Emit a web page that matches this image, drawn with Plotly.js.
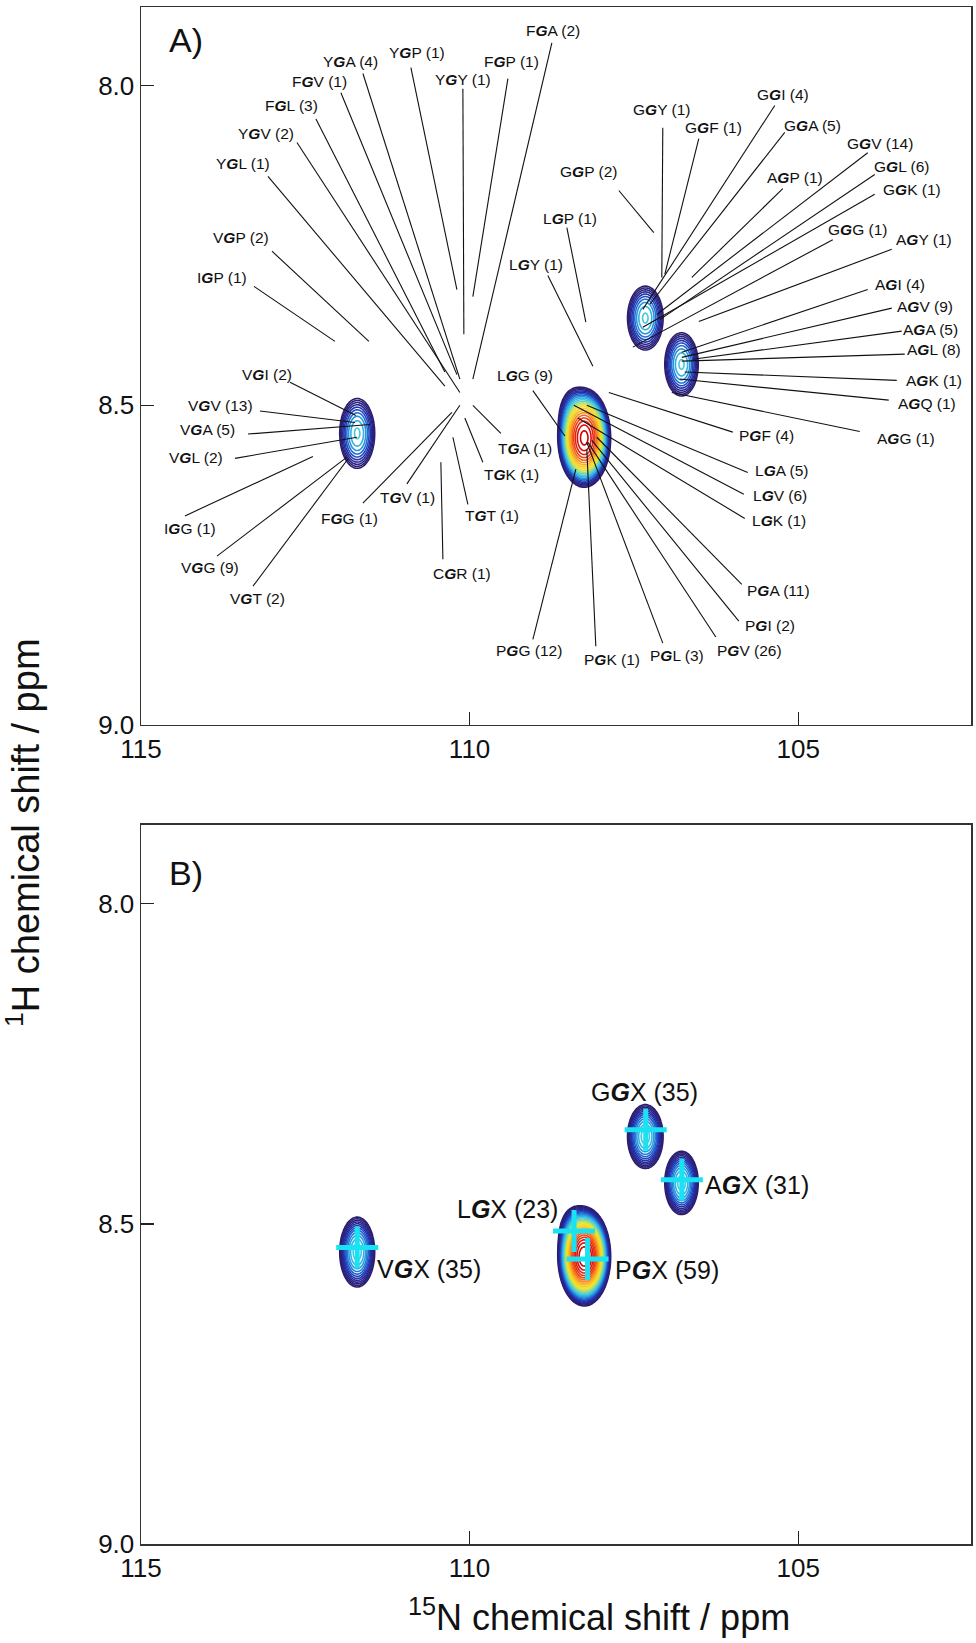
<!DOCTYPE html>
<html>
<head>
<meta charset="utf-8">
<script src="https://cdn.plot.ly/plotly-3.0.1.min.js"></script>
<style>html,body{margin:0;padding:0;background:#fff;}#chart{width:976px;height:1643px;}</style>
</head>
<body>
<div id="chart"></div>
<script>
// ---------- peak data (15N ppm, 1H ppm, widths, intensity) ----------
const peakNames = ['VG', 'PG', 'LG', 'GG', 'AG'];
const peakN     = [111.71, 108.255, 108.40, 107.326, 106.775];
const peakH     = [8.544, 8.551, 8.515, 8.3636, 8.436];
const peakSigN  = [0.115, 0.114, 0.10, 0.117, 0.110];
const peakSigH  = [0.0236, 0.0219, 0.018, 0.0216, 0.0214];
const peakAmp   = [14.5, 500, 10, 14.5, 14.5];

// ---------- panel A labels ----------
const labA = ['YGA (4)','YGP (1)','FGV (1)','FGL (3)','YGV (2)','YGL (1)','VGP (2)','IGP (1)','YGY (1)','FGP (1)','FGA (2)',
  'VGI (2)','VGV (13)','VGA (5)','VGL (2)','IGG (1)','VGG (9)','VGT (2)','FGG (1)','TGV (1)','CGR (1)','TGT (1)','TGK (1)','TGA (1)','LGG (9)',
  'GGP (2)','GGY (1)','GGF (1)','GGI (4)','GGA (5)','GGV (14)','AGP (1)','GGL (6)','GGK (1)','GGG (1)','AGY (1)','LGP (1)','LGY (1)',
  'AGI (4)','AGV (9)','AGA (5)','AGL (8)','AGK (1)','AGQ (1)','AGG (1)','PGF (4)','LGA (5)','LGV (6)','LGK (1)',
  'PGA (11)','PGI (2)','PGV (26)','PGL (3)','PGK (1)','PGG (12)'];
const labAX = [111.806,110.802,112.277,112.703,113.099,113.448,113.479,113.768,110.102,109.356,108.733,
  113.083,113.783,113.981,114.163,114.255,113.95,113.22,111.821,110.939,110.117,109.661,109.356,109.159,109.159,
  108.185,107.075,106.284,105.234,104.778,103.759,105.052,103.424,103.272,104.093,103.089,108.474,108.991,
  103.454,103.074,102.983,102.937,102.937,103.044,103.363,105.478,105.249,105.28,105.295,
  105.295,105.432,105.736,106.847,107.835,109.098];
const labAY = [7.9625,7.948,7.994,8.031,8.075,8.122,8.2375,8.3,7.991,7.9625,7.914,
  8.4516,8.5,8.5375,8.581,8.692,8.753,8.803,8.677,8.644,8.7625,8.673,8.609,8.567,8.453,
  8.134,8.0375,8.066,8.014,8.0625,8.091,8.144,8.127,8.1625,8.225,8.241,8.208,8.28,
  8.311,8.345,8.381,8.4125,8.461,8.497,8.552,8.548,8.602,8.641,8.68,
  8.789,8.844,8.883,8.892,8.897,8.884];
// leader lines: label end -> peak end
const leadX0 = [111.623,110.893,111.958,112.338,112.627,113.068,113.007,113.281,110.102,109.417,108.748,
  112.733,113.19,113.372,113.57,114.331,113.844,113.296,111.623,110.954,110.406,110.026,109.798,109.524,109.037,
  107.729,107.06,106.512,105.356,105.204,103.941,105.234,103.835,103.835,104.474,103.576,108.52,108.809,
  103.941,103.576,103.424,103.378,103.5,103.622,104.063,105.995,105.767,105.827,105.812,
  105.858,105.903,106.253,107.06,108.079,109.037];
const leadY0 = [7.981,7.972,8.011,8.052,8.089,8.142,8.259,8.314,8.005,7.989,7.933,
  8.464,8.509,8.545,8.583,8.673,8.736,8.783,8.653,8.623,8.741,8.655,8.589,8.544,8.477,
  8.164,8.066,8.083,8.031,8.073,8.105,8.161,8.139,8.170,8.241,8.256,8.222,8.297,
  8.319,8.348,8.384,8.420,8.461,8.492,8.541,8.542,8.605,8.639,8.677,
  8.780,8.8375,8.8625,8.872,8.877,8.866];
const leadX1 = [110.148,110.193,110.193,110.376,110.148,110.376,111.532,112.049,110.087,109.95,109.95,
  111.73,111.745,111.517,111.714,112.384,111.866,111.851,110.269,110.148,110.437,110.254,110.072,109.95,108.55,
  107.197,107.075,107.029,107.364,107.257,107.151,106.618,107.105,107.364,107.516,106.512,108.231,108.124,
  106.771,106.771,106.603,106.771,106.725,106.801,106.923,107.881,108.216,108.413,108.353,
  108.064,108.14,108.2,108.216,108.216,108.383];
const leadY1 = [8.459,8.319,8.452,8.448,8.480,8.470,8.4,8.4,8.389,8.330,8.459,
  8.516,8.527,8.530,8.55,8.580,8.581,8.584,8.511,8.5,8.589,8.55,8.520,8.5,8.548,
  8.23,8.3,8.295,8.35,8.342,8.358,8.3,8.366,8.378,8.409,8.369,8.370,8.439,
  8.417,8.425,8.428,8.431,8.448,8.459,8.480,8.480,8.5,8.5,8.520,
  8.55,8.555,8.558,8.558,8.569,8.6];

// ---------- panel B labels & crosses ----------
const labB  = ['GGX (35)','AGX (31)','LGX (23)','PGX (59)','VGX (35)'];
const labBX = [107.333, 106.451, 108.626, 107.82, 111.44];
const labBY = [8.294, 8.439, 8.477, 8.572, 8.570];
const crossN = [107.32, 106.77, 108.41, 108.205, 111.71];
const crossH = [8.353, 8.431, 8.511, 8.555, 8.537];

// ---------- ticks ----------
const xTicks = [115, 110, 105];
const yTicks = [8.0, 8.5, 9.0];
const yTickText = ['8.0', '8.5', '9.0'];

// ---------- build spectrum surface from peak list ----------
const gx = [], gy = [];
for (let i = 0; i <= 560; i++) gx.push(105.7 + i * 0.012);
for (let j = 0; j <= 250; j++) gy.push(8.22 + j * 0.002);
const gz = gy.map(y => gx.map(x => {
  let s = 0;
  for (let k = 0; k < peakN.length; k++) {
    const a = (x - peakN[k]) / peakSigN[k], b = (y - peakH[k]) / peakSigH[k];
    s += peakAmp[k] * Math.exp(-0.5 * (a * a + b * b));
  }
  return Math.log(s + 1e-4);
}));

const cscale = [
  [0, '#2b1d6b'], [0.12, '#2a2488'], [0.2, '#2233b0'], [0.27, '#2060d0'], [0.34, '#2a98dc'],
  [0.42, '#3cc8e8'], [0.48, '#6fd3b0'], [0.54, '#b8e060'], [0.6, '#f0e628'], [0.68, '#f8c820'],
  [0.76, '#f89020'], [0.84, '#f04a14'], [0.92, '#e01a10'], [1, '#d00000']
];

function contourTrace(xa, ya, step) {
  return {
    type: 'contour', x: gx, y: gy, z: gz, xaxis: xa, yaxis: ya,
    contours: {coloring: 'lines', start: 0, end: 6.2, size: step},
    line: {width: 1.6, smoothing: 1},
    colorscale: cscale, zauto: false, zmin: 0, zmax: 6.2,
    showscale: false, hoverinfo: 'skip'
  };
}

const lx = [], ly = [];
for (let i = 0; i < leadX0.length; i++) {
  lx.push(leadX0[i], leadX1[i], null);
  ly.push(leadY0[i], leadY1[i], null);
}

const traces = [
  contourTrace('x', 'y', 0.29),
  {type: 'scatter', mode: 'lines', x: lx, y: ly, xaxis: 'x', yaxis: 'y',
   line: {color: '#111', width: 1.1}, hoverinfo: 'skip', showlegend: false},
  contourTrace('x2', 'y2', 0.23),
  {type: 'scatter', mode: 'markers', x: crossN, y: crossH, xaxis: 'x2', yaxis: 'y2',
   marker: {symbol: 'cross-thin', size: 30, color: '#19e3f2', line: {color: '#19e3f2', width: 5}},
   hoverinfo: 'skip', showlegend: false}
];

function fmt(s) { return s[0] + '<b><i>G</i></b>' + s.slice(2); }
const FONT = 'Liberation Sans, Arial, sans-serif';

const ann = [];
for (let i = 0; i < labA.length; i++) {
  ann.push({xref: 'x', yref: 'y', x: labAX[i], y: labAY[i], text: fmt(labA[i]), showarrow: false,
    xanchor: 'center', yanchor: 'middle', font: {family: FONT, size: 15.5, color: '#111'}});
}
const bAnchor = ['center', 'left', 'right', 'left', 'left'];
for (let i = 0; i < labB.length; i++) {
  ann.push({xref: 'x2', yref: 'y2', x: labBX[i], y: labBY[i], text: fmt(labB[i]), showarrow: false,
    xanchor: bAnchor[i], yanchor: 'middle', font: {family: FONT, size: 25, color: '#111'}});
}
ann.push({xref: 'x', yref: 'y', x: 114.31, y: 7.928, text: 'A)', showarrow: false,
  xanchor: 'center', yanchor: 'middle', font: {family: FONT, size: 34, color: '#111'}});
ann.push({xref: 'x2', yref: 'y2', x: 114.31, y: 7.9516, text: 'B)', showarrow: false,
  xanchor: 'center', yanchor: 'middle', font: {family: FONT, size: 34, color: '#111'}});
ann.push({xref: 'paper', yref: 'paper', x: -0.1422, y: 0.4632, text: '<sup>1</sup>H chemical shift / ppm',
  textangle: -90, showarrow: false, xanchor: 'center', yanchor: 'middle',
  font: {family: FONT, size: 38, color: '#111'}});
ann.push({xref: 'paper', yref: 'paper', x: 0.5518, y: -0.0465, text: '<sup>15</sup>N chemical shift / ppm',
  showarrow: false, xanchor: 'center', yanchor: 'middle',
  font: {family: FONT, size: 36, color: '#111'}});

function xax(anchor) {
  return {anchor: anchor, domain: [0, 1], range: [115, 102.37], tickmode: 'array', tickvals: xTicks,
    ticks: 'inside', ticklen: 13, tickwidth: 1.3, tickcolor: '#222', showline: true, mirror: true,
    linecolor: '#333', linewidth: 1.5, showgrid: false, zeroline: false,
    tickfont: {family: FONT, size: 26, color: '#111'}, fixedrange: true};
}
function yax(anchor, dom) {
  return {anchor: anchor, domain: dom, range: [9.0, 7.877], tickmode: 'array', tickvals: yTicks, ticktext: yTickText,
    ticks: 'inside', ticklen: 13, tickwidth: 1.3, tickcolor: '#222', showline: true, mirror: true,
    linecolor: '#333', linewidth: 1.5, showgrid: false, zeroline: false,
    tickfont: {family: FONT, size: 26, color: '#111'}, fixedrange: true};
}

const layout = {
  width: 976, height: 1643,
  margin: {l: 141, r: 5, t: 7, b: 99},
  paper_bgcolor: '#fff', plot_bgcolor: '#fff',
  showlegend: false,
  xaxis: xax('y'), yaxis: yax('x', [0.5329, 1]),
  xaxis2: xax('y2'), yaxis2: yax('x2', [0, 0.4678]),
  annotations: ann,
  font: {family: FONT}
};

Plotly.newPlot('chart', traces, layout, {staticPlot: true, displayModeBar: false});
</script>
</body>
</html>
